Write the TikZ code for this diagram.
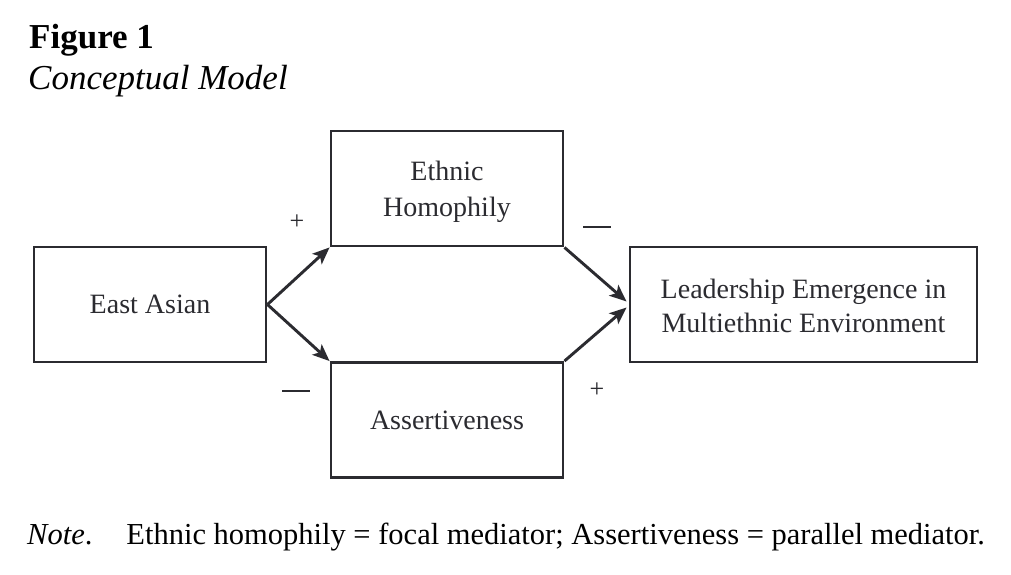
\documentclass[tikz,border=0pt]{standalone}
\usepackage{fontspec}
\setmainfont{Liberation Serif}
\usetikzlibrary{arrows.meta,calc}
\definecolor{ink}{HTML}{2B2B30}
\tikzset{
  box/.style={draw=ink, line width=2.9pt, rectangle, inner sep=0pt, align=center,
    font=\fontsize{28}{36}\selectfont, text=ink},
  conn/.style={draw=ink, line width=2.9pt, -{Stealth[length=17pt,width=14pt,inset=4pt]}},
  sign/.style={font=\fontsize{26}{30}\selectfont, text=ink, inner sep=0pt},
}
\begin{document}
\begin{tikzpicture}[x=1pt,y=-1pt]
\useasboundingbox[fill=white] (0,0) rectangle (1011,575);
\node[anchor=base west, inner sep=0pt, font=\fontsize{35}{40}\selectfont\bfseries] (fig) at (29,49) {Figure 1};
\node[anchor=base west, inner sep=0pt, font=\fontsize{35}{40}\selectfont\itshape] (cm) at (28,90) {Conceptual Model};

\node[box, minimum width=232pt, minimum height=115pt] (ea) at (150,304.5) {East Asian};
\node[box, minimum width=232pt, minimum height=115pt] (eh) at (447,188.5) {\rule{0pt}{27pt}Ethnic\\Homophily};
\node[box, minimum width=232pt, minimum height=115pt] (as) at (447,420) {Assertiveness};
\node[box, minimum width=347pt, minimum height=115pt, font=\fontsize{28}{34.5}\selectfont] (ld) at (803.5,304.5) {\rule{0pt}{22pt}Leadership Emergence in\\Multiethnic Environment};

\draw[conn] (ea.east) -- (eh.south west);
\draw[conn] (ea.east) -- (as.north west);
\coordinate (t1) at ($(ld.west)+(-2,-3)$);
\coordinate (t2) at ($(ld.west)+(-2,3)$);
\draw[conn] (eh.south east) -- (t1);
\draw[conn] (as.north east) -- (t2);

\node[sign] (p1) at (297,222) {+};
\node[sign] (m1) at (296,393) {\rule[0.3ex]{28pt}{2pt}};
\node[sign] (m2) at (597,229) {\rule[0.3ex]{28pt}{2pt}};
\node[sign] (p2) at (597,390) {+};

\node[anchor=base west, inner sep=0pt, font=\fontsize{30.5}{34}\selectfont] (note) at (27,544) {\textit{Note}.\hspace{34pt}Ethnic homophily = focal mediator; Assertiveness = parallel mediator.};
\end{tikzpicture}
\end{document}
